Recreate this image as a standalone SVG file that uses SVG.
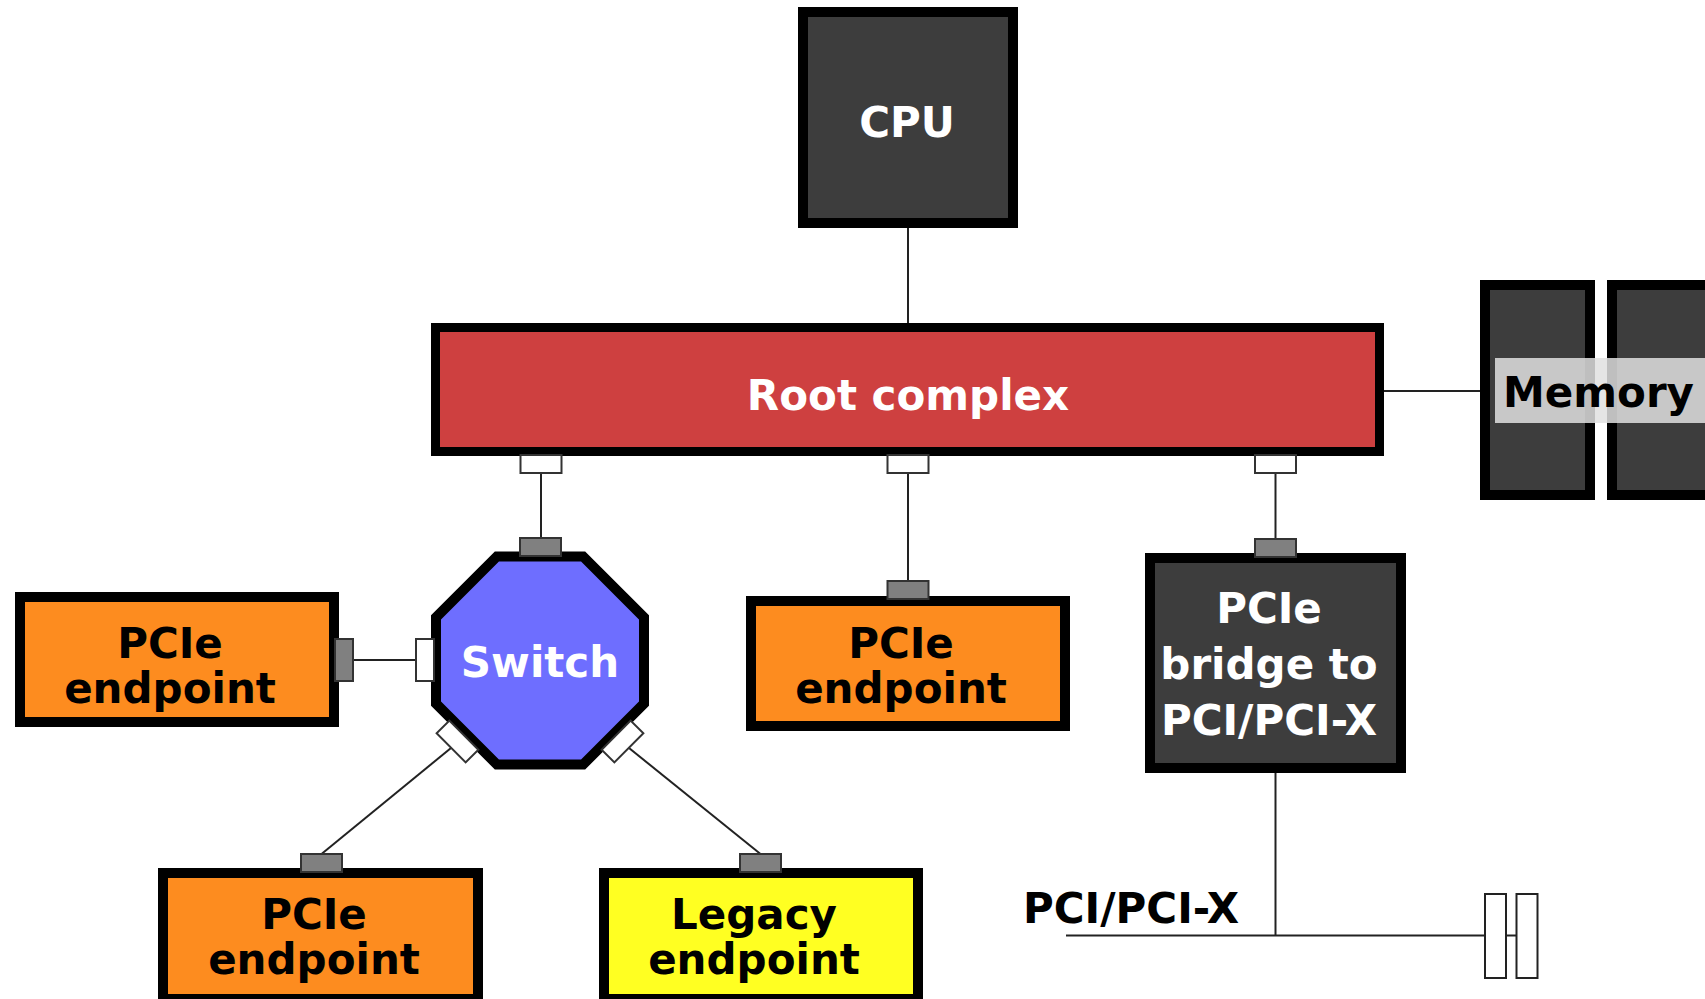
<svg xmlns="http://www.w3.org/2000/svg" width="1705" height="999" viewBox="0 0 1705 999">
<style>
.t{font-family:"DejaVu Sans","Liberation Sans",sans-serif;font-weight:bold;font-size:42px;text-anchor:middle}
.w{fill:#ffffff}
.b{fill:#000000}
.box{stroke:#000;stroke-width:10}
.dark{fill:#3d3d3d}
.pw{fill:#ffffff;stroke:#333;stroke-width:2}
.pg{fill:#808080;stroke:#333;stroke-width:2}
.ln{stroke:#222;stroke-width:2;fill:none}
</style>
<rect width="1705" height="999" fill="#ffffff"/>
<g id="connectors">
<line class="ln" x1="908" y1="228" x2="908" y2="324"/>
<line class="ln" x1="1384" y1="391" x2="1480" y2="391"/>
<line class="ln" x1="541" y1="473" x2="541" y2="539"/>
<line class="ln" x1="908" y1="473" x2="908" y2="582"/>
<line class="ln" x1="1275.5" y1="473" x2="1275.5" y2="540"/>
<line class="ln" x1="353" y1="660" x2="416" y2="660"/>
<line class="ln" x1="451" y1="748" x2="321.5" y2="854"/>
<line class="ln" x1="629" y1="748" x2="760.5" y2="854"/>
<line class="ln" x1="1275.5" y1="773" x2="1275.5" y2="935.5"/>
<line class="ln" x1="1066" y1="935.5" x2="1485" y2="935.5"/>
<line class="ln" x1="1506" y1="935.5" x2="1516.5" y2="935.5"/>
</g>
<g id="cpu">
<rect class="box dark" x="803" y="12" width="210" height="211"/>
<text class="t w" x="907" y="137">CPU</text>
</g>
<g id="root-complex">
<rect x="435.5" y="327.5" width="944" height="124" fill="#ce4040" stroke="#000" stroke-width="9"/>
<text class="t w" x="908" y="410">Root complex</text>
<rect class="pw" x="520.5" y="455" width="41" height="18"/>
<rect class="pw" x="887.5" y="455" width="41" height="18"/>
<rect class="pw" x="1255" y="455" width="41" height="18"/>
</g>
<g id="memory">
<rect class="box dark" x="1485" y="285" width="105" height="210"/>
<rect class="box dark" x="1612" y="285" width="105" height="210"/>
<rect x="1495" y="358" width="215" height="65" fill="#e1e1e1" fill-opacity="0.85"/>
<text class="t b" x="1503" y="407" style="text-anchor:start">Memory</text>
</g>
<g id="switch">
<path d="M496.9,556.5 L583.1,556.5 L644,617.4 L644,703.6 L583.1,764.5 L496.9,764.5 L436,703.6 L436,617.4 Z" fill="#6e6eff" stroke="#000" stroke-width="10"/>
<text class="t w" x="540" y="677">Switch</text>
<rect class="pg" x="520" y="538" width="41" height="18"/>
<rect class="pw" x="416" y="639" width="18" height="42"/>
<rect class="pw" x="-20.5" y="-9" width="41" height="18" transform="translate(457.5,741.5) rotate(45)"/>
<rect class="pw" x="-20.5" y="-9" width="41" height="18" transform="translate(622.5,741.5) rotate(-45)"/>
</g>
<g id="endpoint-left">
<rect class="box" x="20" y="597" width="314" height="125" fill="#fd8c1f"/>
<text class="t b" x="170" y="658"><tspan x="170">PCIe</tspan><tspan x="170" dy="45">endpoint</tspan></text>
<rect class="pg" x="335" y="639" width="18" height="42"/>
</g>
<g id="endpoint-middle">
<rect class="box" x="751" y="601" width="314" height="125" fill="#fd8c1f"/>
<text class="t b" x="901" y="658"><tspan x="901">PCIe</tspan><tspan x="901" dy="45">endpoint</tspan></text>
<rect class="pg" x="887.5" y="581" width="41" height="18"/>
</g>
<g id="bridge">
<rect class="box dark" x="1150" y="558" width="251" height="210"/>
<text class="t w" x="1269" y="623"><tspan x="1269">PCIe</tspan><tspan x="1269" dy="56">bridge to</tspan><tspan x="1269" dy="56">PCI/PCI-X</tspan></text>
<rect class="pg" x="1255" y="539" width="41" height="18"/>
</g>
<g id="endpoint-bottom">
<rect class="box" x="163" y="873" width="315" height="126" fill="#fd8c1f"/>
<text class="t b" x="314" y="929"><tspan x="314">PCIe</tspan><tspan x="314" dy="45">endpoint</tspan></text>
<rect class="pg" x="301" y="854" width="41" height="18"/>
</g>
<g id="legacy-endpoint">
<rect class="box" x="604" y="873" width="314" height="126" fill="#ffff22"/>
<text class="t b" x="754" y="929"><tspan x="754">Legacy</tspan><tspan x="754" dy="45">endpoint</tspan></text>
<rect class="pg" x="740" y="854" width="41" height="18"/>
</g>
<g id="pci-bus">
<text class="t b" x="1023" y="923" style="text-anchor:start">PCI/PCI-X</text>
<rect x="1485" y="894" width="21" height="84" fill="#fff" stroke="#222" stroke-width="2"/>
<rect x="1516.5" y="894" width="21" height="84" fill="#fff" stroke="#222" stroke-width="2"/>
</g>
</svg>
